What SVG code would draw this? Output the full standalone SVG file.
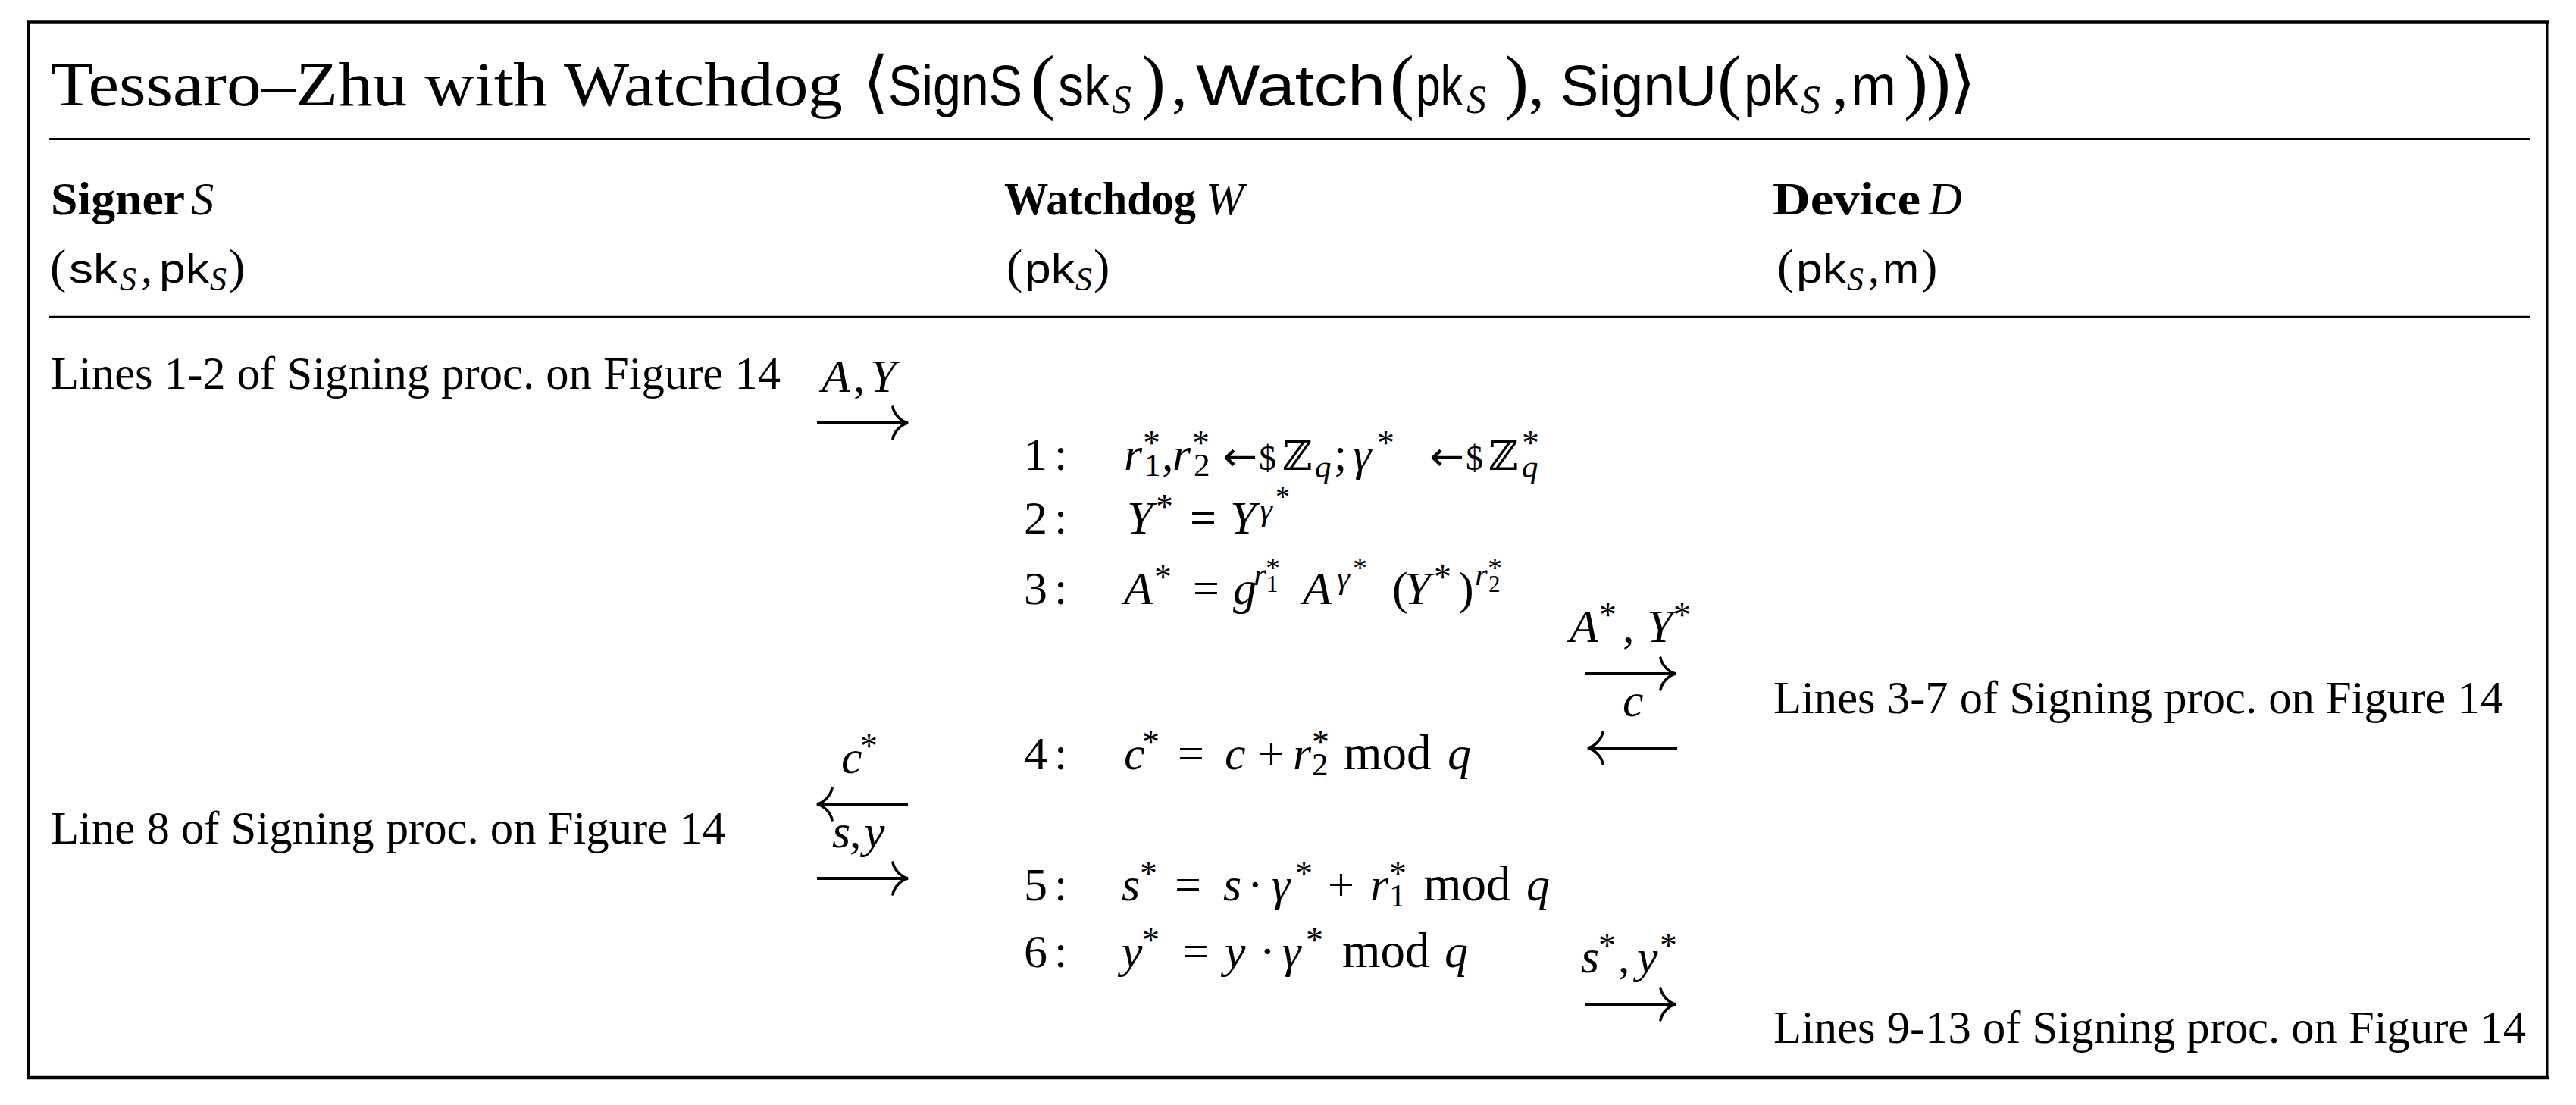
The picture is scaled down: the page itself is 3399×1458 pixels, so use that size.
<svg xmlns="http://www.w3.org/2000/svg" width="3399" height="1458" viewBox="0 0 3399 1458">
<style>
text { fill:#000; }
.rm { font-family:"Liberation Serif", serif; }
.it { font-family:"Liberation Serif", serif; font-style:italic; }
.bf { font-family:"Liberation Serif", serif; font-weight:bold; }
.sf { font-family:"Liberation Sans", sans-serif; }
.bb { font-family:"DejaVu Serif", serif; }
.dv { font-family:"DejaVu Sans", sans-serif; }
.body { font-size:60.6px; }
.m { font-size:62px; }
.sc { font-size:43px; }
.ssc { font-size:31px; }
.ast { font-size:46px; }
.sast { font-size:38px; }
.tsf { font-size:76px; }
.big { font-size:96px; }
.line { stroke:#000; fill:none; }
.arr { stroke:#000; stroke-width:4; fill:none; marker-end:url(#hd); }
</style>
<defs>
<marker id="hd" markerUnits="userSpaceOnUse" viewBox="-26 -26 30 52" refX="0" refY="0" markerWidth="30" markerHeight="52" orient="auto" overflow="visible">
<path d="M-20,-21 C-18,-11 -9,-2 0,0 C-9,2 -18,11 -20,21" stroke="#000" stroke-width="3.6" fill="none" stroke-linecap="round"/>
</marker>
</defs>
<rect width="3399" height="1458" fill="#fff"/>

<g id="frame">
<rect class="line" x="37.5" y="29.5" width="3323.5" height="1392.5" stroke-width="3"/>
<line class="line" x1="36" y1="29.5" x2="3363" y2="29.5" stroke-width="4.5"/>
<line class="line" x1="36" y1="1422" x2="3363" y2="1422" stroke-width="4.5"/>
<line class="line" x1="65" y1="183.5" x2="3338" y2="183.5" stroke-width="3.2"/>
<line class="line" x1="65" y1="418" x2="3338" y2="418" stroke-width="2.6"/>
</g>

<g id="title">
<text class="rm" x="67" y="139" font-size="82" textLength="1045" lengthAdjust="spacingAndGlyphs">Tessaro–Zhu with Watchdog</text>
<text class="dv" x="1138" y="139" font-size="90">⟨</text>
<text class="sf tsf" x="1172" y="139" textLength="177" lengthAdjust="spacingAndGlyphs">SignS</text>
<text class="rm big" x="1360" y="139">(</text>
<text class="sf tsf" x="1396" y="139" textLength="68" lengthAdjust="spacingAndGlyphs">sk</text>
<text class="it" x="1467" y="149" font-size="52">S</text>
<text class="rm big" x="1506" y="139">)</text>
<text class="rm" x="1546" y="139" font-size="82">,</text>
<text class="sf tsf" x="1578" y="139" textLength="250" lengthAdjust="spacingAndGlyphs">Watch</text>
<text class="rm big" x="1834" y="139">(</text>
<text class="sf tsf" x="1868" y="139" textLength="62" lengthAdjust="spacingAndGlyphs">pk</text>
<text class="it" x="1935" y="149" font-size="52">S</text>
<text class="rm big" x="1985" y="139">)</text>
<text class="rm" x="2017" y="139" font-size="82">,</text>
<text class="sf tsf" x="2059" y="139" textLength="206" lengthAdjust="spacingAndGlyphs">SignU</text>
<text class="rm big" x="2266" y="139">(</text>
<text class="sf tsf" x="2301" y="139" textLength="72" lengthAdjust="spacingAndGlyphs">pk</text>
<text class="it" x="2376" y="149" font-size="52">S</text>
<text class="rm" x="2418" y="139" font-size="82">,</text>
<text class="sf tsf" x="2442" y="139" textLength="60" lengthAdjust="spacingAndGlyphs">m</text>
<text class="rm big" x="2512" y="139">)</text>
<text class="rm big" x="2542" y="139">)</text>
<text class="dv" x="2572" y="139" font-size="90">⟩</text>
</g>

<g id="signer">
<text class="bf body" x="67" y="283" textLength="177" lengthAdjust="spacingAndGlyphs">Signer</text>
<text class="it body" x="252" y="283">S</text>
<text class="rm" x="66" y="373" font-size="64">(</text>
<text class="sf" x="91" y="373" font-size="54" textLength="64" lengthAdjust="spacingAndGlyphs">sk</text>
<text class="it" x="158" y="383" font-size="44">S</text>
<text class="rm body" x="186" y="373">,</text>
<text class="sf" x="210" y="373" font-size="54" textLength="66" lengthAdjust="spacingAndGlyphs">pk</text>
<text class="it" x="277" y="383" font-size="44">S</text>
<text class="rm" x="302" y="373" font-size="64">)</text>
</g>

<g id="watchdog">
<text class="bf body" x="1325" y="283" textLength="253" lengthAdjust="spacingAndGlyphs">Watchdog</text>
<text class="it body" x="1591" y="283">W</text>
<text class="rm" x="1328" y="373" font-size="64">(</text>
<text class="sf" x="1352" y="373" font-size="54" textLength="66" lengthAdjust="spacingAndGlyphs">pk</text>
<text class="it" x="1419" y="383" font-size="44">S</text>
<text class="rm" x="1443" y="373" font-size="64">)</text>
</g>

<g id="device">
<text class="bf body" x="2339" y="283" textLength="195" lengthAdjust="spacingAndGlyphs">Device</text>
<text class="it body" x="2545" y="283">D</text>
<text class="rm" x="2345" y="373" font-size="64">(</text>
<text class="sf" x="2370" y="373" font-size="54" textLength="66" lengthAdjust="spacingAndGlyphs">pk</text>
<text class="it" x="2437" y="383" font-size="44">S</text>
<text class="rm body" x="2465" y="373">,</text>
<text class="sf" x="2484" y="373" font-size="54" textLength="48" lengthAdjust="spacingAndGlyphs">m</text>
<text class="rm" x="2535" y="373" font-size="64">)</text>
</g>

<g id="signer-step-1">
<text class="rm body" x="67" y="513" textLength="963" lengthAdjust="spacingAndGlyphs">Lines 1-2 of Signing proc. on Figure 14</text>
</g>
<g id="signer-step-2">
<text class="rm body" x="67" y="1113" textLength="890" lengthAdjust="spacingAndGlyphs">Line 8 of Signing proc. on Figure 14</text>
</g>
<g id="device-step-1">
<text class="rm body" x="2340" y="941" textLength="963" lengthAdjust="spacingAndGlyphs">Lines 3-7 of Signing proc. on Figure 14</text>
</g>
<g id="device-step-2">
<text class="rm body" x="2340" y="1376" textLength="993" lengthAdjust="spacingAndGlyphs">Lines 9-13 of Signing proc. on Figure 14</text>
</g>

<g id="watchdog-steps">
<text class="rm m" y="620"><tspan x="1351">1</tspan><tspan x="1391">:</tspan><tspan class="it" x="1483">r</tspan><tspan class="ast" x="1508" y="600">*</tspan><tspan class="sc" x="1510" y="628">1</tspan><tspan x="1533" y="620">,</tspan><tspan class="it" x="1547">r</tspan><tspan class="ast" x="1573" y="600">*</tspan><tspan class="sc" x="1575" y="628">2</tspan><tspan font-size="46" x="1661" y="620">$</tspan><tspan class="bb" font-size="54" x="1692">ℤ</tspan><tspan class="it sc" x="1735" y="630">q</tspan><tspan x="1760" y="620">;</tspan><tspan class="it" x="1785">γ</tspan><tspan class="ast" x="1817" y="600">*</tspan><tspan font-size="46" x="1934" y="620">$</tspan><tspan class="bb" font-size="54" x="1964">ℤ</tspan><tspan class="ast" x="2008" y="600">*</tspan><tspan class="it sc" x="2008" y="630">q</tspan></text>
<text class="dv" x="1613" y="620" font-size="52" textLength="46" lengthAdjust="spacingAndGlyphs">←</text>
<text class="dv" x="1886" y="620" font-size="52" textLength="46" lengthAdjust="spacingAndGlyphs">←</text>

<text class="rm m" y="704"><tspan x="1351">2</tspan><tspan x="1391">:</tspan><tspan class="it" x="1487">Y</tspan><tspan class="ast" x="1525" y="684">*</tspan><tspan x="1570" y="704">=</tspan><tspan class="it" x="1623">Y</tspan><tspan class="it sc" x="1662" y="686">γ</tspan><tspan class="sast" x="1683" y="668">*</tspan></text>

<text class="rm m" y="797"><tspan x="1351">3</tspan><tspan x="1391">:</tspan><tspan class="it" x="1483">A</tspan><tspan class="ast" x="1523" y="777">*</tspan><tspan x="1574" y="797">=</tspan><tspan class="it" x="1627">g</tspan><tspan class="it sc" x="1654" y="772">r</tspan><tspan class="ssc" x="1671" y="781">1</tspan><tspan class="sast" x="1670" y="762">*</tspan><tspan class="it" x="1719" y="797">A</tspan><tspan class="it sc" x="1764" y="776">γ</tspan><tspan class="sast" x="1785" y="762">*</tspan><tspan x="1837" y="797">(</tspan><tspan class="it" x="1853">Y</tspan><tspan class="ast" x="1892" y="777">*</tspan><tspan x="1924" y="797">)</tspan><tspan class="it sc" x="1946" y="772">r</tspan><tspan class="ssc" x="1964" y="781">2</tspan><tspan class="sast" x="1963" y="762">*</tspan></text>

<text class="rm m" y="1015"><tspan x="1351">4</tspan><tspan x="1391">:</tspan><tspan class="it" x="1483">c</tspan><tspan class="ast" x="1507" y="995">*</tspan><tspan x="1554" y="1015">=</tspan><tspan class="it" x="1616">c</tspan><tspan x="1660">+</tspan><tspan class="it" x="1706">r</tspan><tspan class="ast" x="1731" y="995">*</tspan><tspan class="sc" x="1731" y="1023">2</tspan><tspan font-size="65" x="1773" y="1015">mod</tspan><tspan class="it" x="1910">q</tspan></text>

<text class="rm m" y="1188"><tspan x="1351">5</tspan><tspan x="1391">:</tspan><tspan class="it" x="1480">s</tspan><tspan class="ast" x="1504" y="1168">*</tspan><tspan x="1550" y="1188">=</tspan><tspan class="it" x="1614">s</tspan><tspan x="1646">·</tspan><tspan class="it" x="1678">γ</tspan><tspan class="ast" x="1709" y="1168">*</tspan><tspan x="1752" y="1188">+</tspan><tspan class="it" x="1808">r</tspan><tspan class="ast" x="1833" y="1168">*</tspan><tspan class="sc" x="1833" y="1196">1</tspan><tspan font-size="65" x="1878" y="1188">mod</tspan><tspan class="it" x="2014">q</tspan></text>

<text class="rm m" y="1276"><tspan x="1351">6</tspan><tspan x="1391">:</tspan><tspan class="it" x="1480">y</tspan><tspan class="ast" x="1507" y="1256">*</tspan><tspan x="1560" y="1276">=</tspan><tspan class="it" x="1616">y</tspan><tspan x="1662">·</tspan><tspan class="it" x="1692">γ</tspan><tspan class="ast" x="1723" y="1256">*</tspan><tspan font-size="65" x="1771" y="1276">mod</tspan><tspan class="it" x="1906">q</tspan></text>
</g>

<g id="connectors">
<path class="arr" d="M1078,558 H1198"/>
<path class="arr" d="M2092,889 H2211"/>
<path class="arr" d="M2213,987 H2095"/>
<path class="arr" d="M1198,1061 H1078"/>
<path class="arr" d="M1078,1159 H1198"/>
<path class="arr" d="M2092,1325 H2211"/>
<text class="rm m" y="517"><tspan class="it" x="1084">A</tspan><tspan x="1126">,</tspan><tspan class="it" x="1148">Y</tspan></text>
<text class="rm m" y="847"><tspan class="it" x="2071">A</tspan><tspan class="ast" x="2110" y="827">*</tspan><tspan x="2141" y="847">,</tspan><tspan class="it" x="2173">Y</tspan><tspan class="ast" x="2208" y="827">*</tspan></text>
<text class="it m" x="2141" y="945">c</text>
<text class="rm m" y="1020"><tspan class="it" x="1110">c</tspan><tspan class="ast" x="1135" y="1000">*</tspan></text>
<text class="rm m" y="1118"><tspan class="it" x="1098">s</tspan><tspan x="1121">,</tspan><tspan class="it" x="1140">y</tspan></text>
<text class="rm m" y="1283"><tspan class="it" x="2086">s</tspan><tspan class="ast" x="2109" y="1263">*</tspan><tspan x="2135" y="1283">,</tspan><tspan class="it" x="2160">y</tspan><tspan class="ast" x="2190" y="1263">*</tspan></text>
</g>
</svg>
